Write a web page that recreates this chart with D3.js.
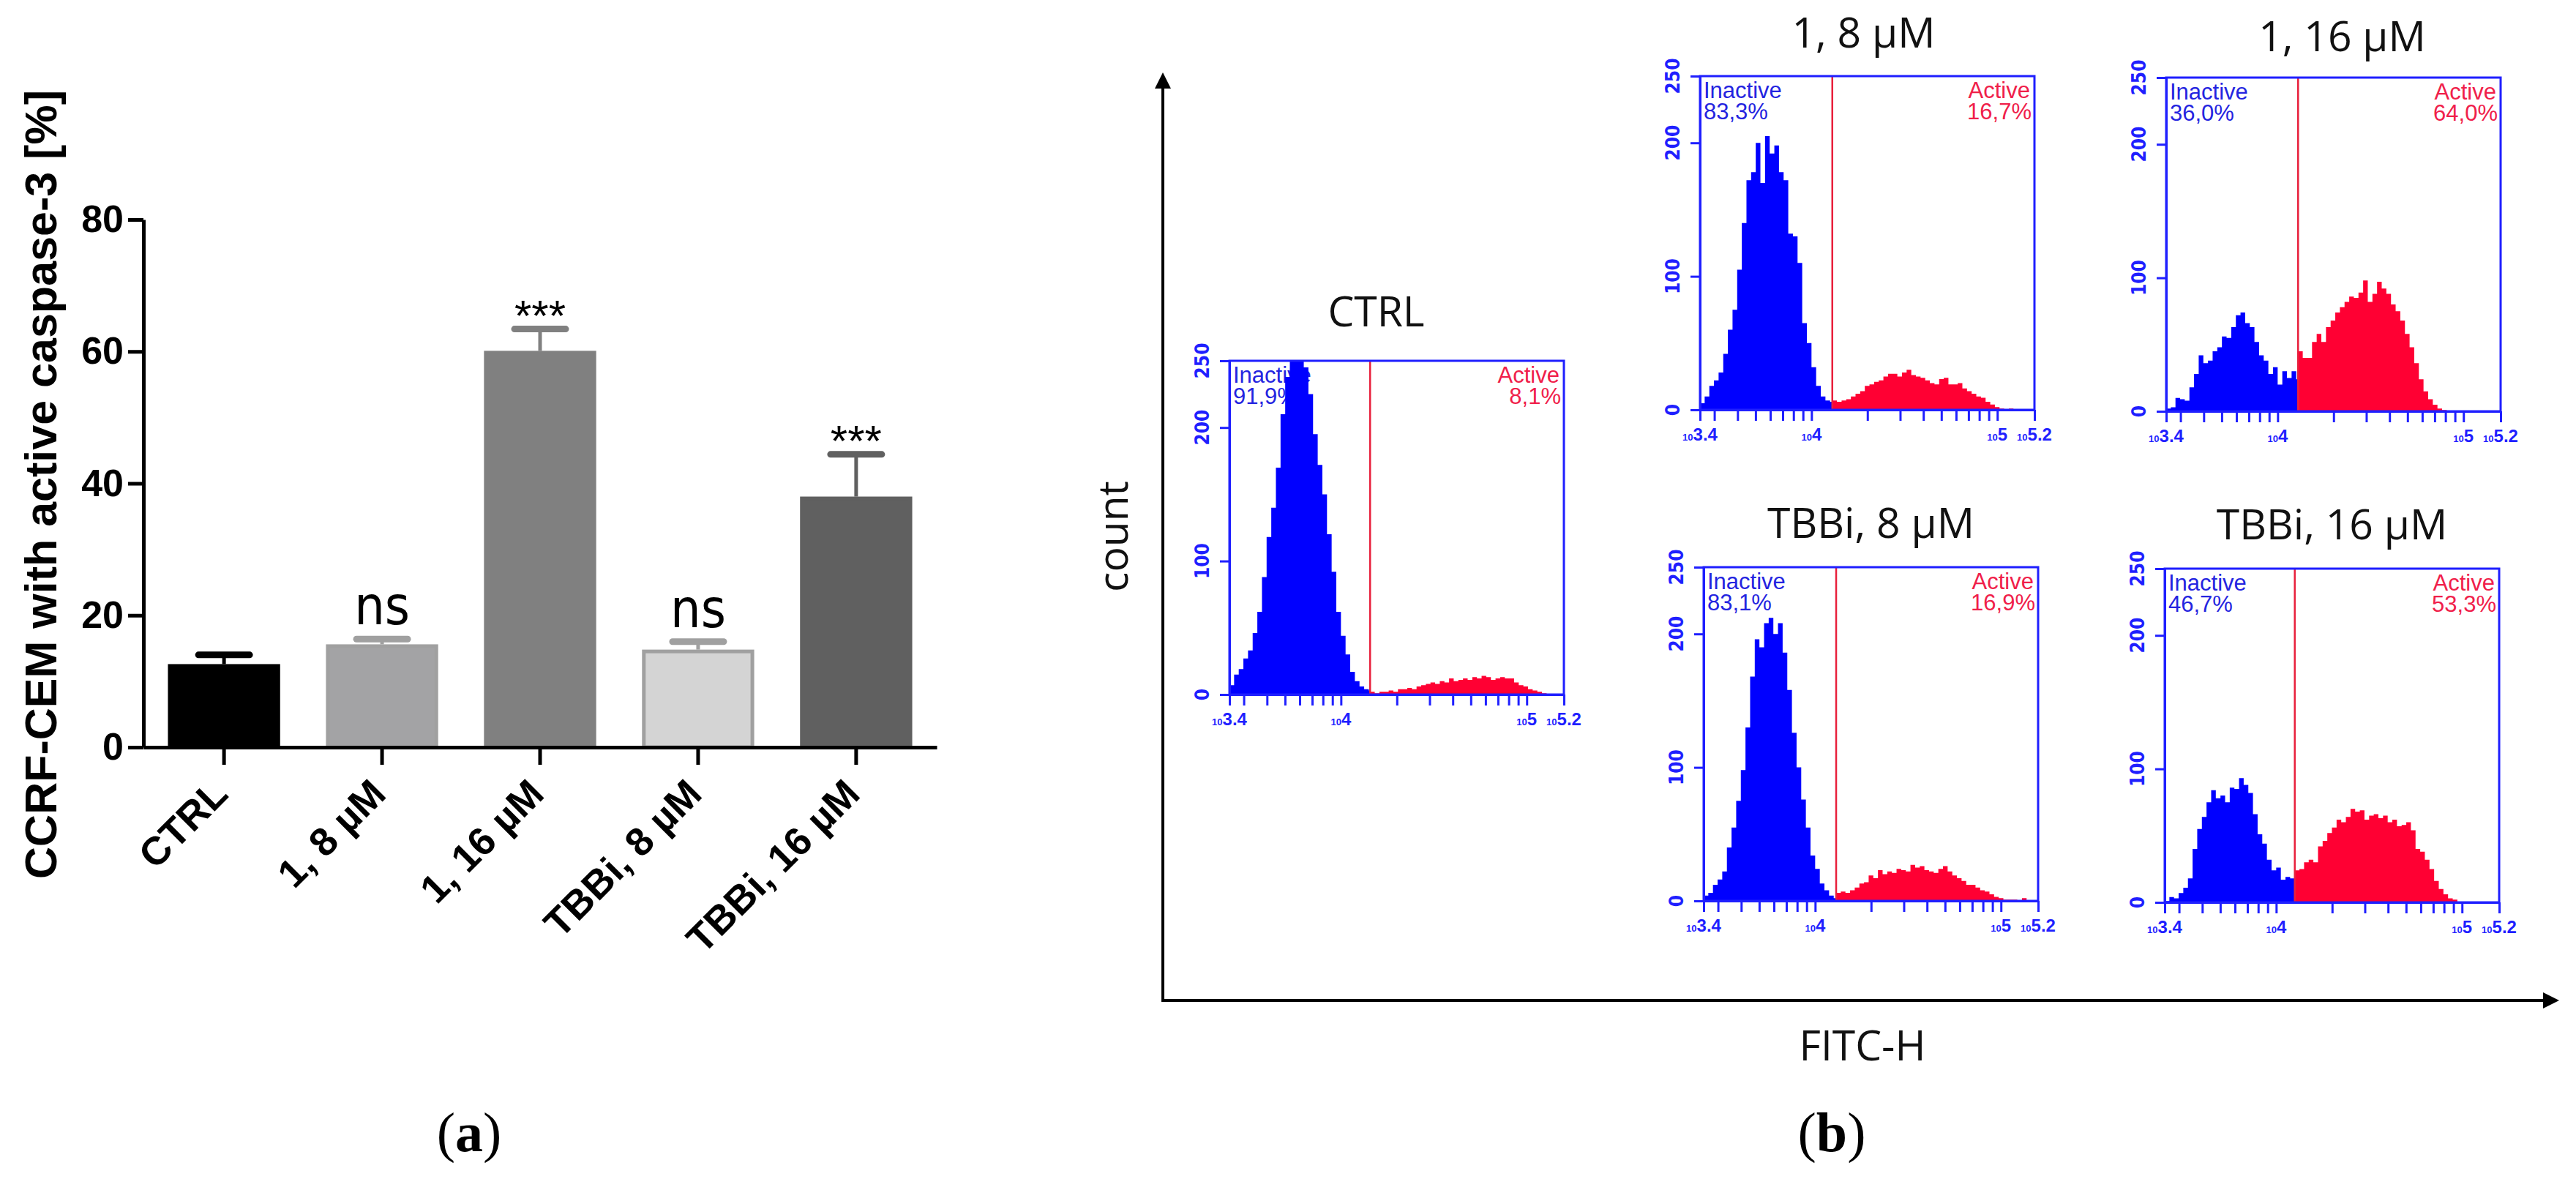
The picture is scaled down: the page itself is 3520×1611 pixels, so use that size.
<!DOCTYPE html>
<html>
<head>
<meta charset="utf-8">
<script src="https://cdn.jsdelivr.net/npm/d3@7"></script>
<style>
  body { margin: 0; background: #fff; }
  svg { display: block; }
</style>
</head>
<body>
<svg id="fig" width="3520" height="1611"></svg>
<script>
// ---------- panel (a): % cells with active caspase-3 ----------
const groups = ["CTRL", "1, 8 µM", "1, 16 µM", "TBBi, 8 µM", "TBBi, 16 µM"];
const meanActive = [12.6, 15.6, 60.1, 14.8, 38.0];
const semActive = [1.4, 0.8, 3.3, 1.2, 6.4];
const signif = ["", "ns", "***", "ns", "***"];
const pctTicks = [0, 20, 40, 60, 80];

// ---------- panel (b): FITC-H histograms ----------
const panelTitles = ["CTRL", "1, 8 µM", "1, 16 µM", "TBBi, 8 µM", "TBBi, 16 µM"];
const inactivePct = ["91,9%", "83,3%", "36,0%", "83,1%", "46,7%"];
const activePct = ["8,1%", "16,7%", "64,0%", "16,9%", "53,3%"];
const gateLog = [4.157, 4.112, 4.110, 4.113, 4.100];   // log10 of the gate
const binLog = 0.025;                                  // bin width in decades
const countTicks = [0, 100, 200, 250];
const fitcTicks = [10 ** 3.4, 3000, 4000, 5000, 6000, 7000, 8000, 9000, 10000,
  20000, 30000, 40000, 50000, 60000, 70000, 80000, 90000, 100000, 10 ** 5.2];
const fitcLabels = ["3.4", "4", "5", "5.2"];

// counts per bin, inactive bins start at 10^3.4, active bins start at the gate
const countsInactive = [
  [7, 15, 19, 27, 33, 46, 62, 88, 118, 140, 170, 210, 238, 250, 250, 250, 245, 225, 195, 172, 150, 120, 92, 62, 44, 30, 17, 10, 6, 4, 3],
  [5, 10, 18, 22, 28, 42, 60, 75, 105, 140, 172, 178, 200, 170, 205, 192, 198, 178, 172, 132, 130, 110, 65, 50, 32, 18, 10, 7, 6],
  [2, 3, 10, 9, 8, 18, 28, 42, 36, 38, 45, 48, 56, 55, 63, 72, 74, 66, 63, 52, 42, 38, 28, 33, 20, 30, 25, 30, 24],
  [4, 6, 12, 16, 22, 40, 55, 75, 98, 130, 168, 196, 190, 208, 212, 200, 208, 186, 158, 126, 100, 76, 55, 34, 24, 13, 8, 4, 2],
  [1, 4, 3, 7, 11, 18, 40, 55, 64, 75, 84, 78, 80, 75, 86, 85, 93, 88, 82, 66, 51, 44, 32, 24, 26, 17, 19, 18, 17]
];
const countsActive = [
  [2, 1, 2, 2, 3, 2, 4, 4, 5, 4, 6, 7, 8, 9, 8, 10, 9, 12, 10, 11, 12, 11, 13, 12, 14, 13, 11, 12, 13, 12, 12, 9, 7, 6, 4, 3, 2, 1, 0],
  [7, 6, 7, 8, 10, 12, 14, 18, 19, 21, 22, 25, 27, 27, 25, 28, 30, 26, 25, 24, 22, 20, 19, 23, 24, 19, 19, 20, 16, 14, 12, 10, 9, 6, 4, 2, 1, 0, 1],
  [45, 40, 40, 52, 58, 52, 63, 68, 74, 78, 82, 86, 85, 89, 98, 82, 88, 97, 92, 88, 80, 75, 68, 58, 48, 36, 24, 15, 9, 5, 2, 1],
  [6, 7, 6, 8, 10, 13, 14, 19, 17, 23, 20, 22, 21, 24, 23, 22, 27, 25, 26, 23, 22, 21, 24, 26, 22, 19, 17, 15, 12, 12, 10, 8, 7, 5, 3, 2, 1, 1, 1, 0, 2, 0],
  [24, 25, 30, 32, 30, 42, 46, 52, 56, 62, 60, 64, 70, 68, 69, 62, 65, 66, 63, 65, 60, 62, 57, 58, 60, 54, 40, 38, 32, 25, 16, 10, 6, 3, 2]
];

// layout
const panelPos = [[1680, 493], [2323, 104], [2960, 106], [2328, 775], [2958, 777]];
const titleShift = [[-28, -47], [-5, -39], [12, -36], [0, -40], [0, -40]];
const boxW = 457, boxH = 456;
const barFill = ["#000000", "#a3a3a5", "#808080", "#d4d4d4", "#606060"];
const barStroke = ["#000000", "#a0a0a0", "#808080", "#a0a0a0", "#606060"];

const svg = d3.select("#fig");
const SANS = "'Liberation Sans', Arial, sans-serif";
const NARROW = "'Liberation Sans Narrow', 'Arial Narrow', 'DejaVu Sans Condensed', sans-serif";
const CAL = "'Open Sans', Lato, sans-serif";
const SERIF = "'Liberation Serif', 'DejaVu Serif', serif";

// Bar chart with error bars
function drawBars() {
  const g = svg.append("g");
  const x = d3.scaleBand().domain(groups).range([196, 1280])
    .paddingInner(0.29).paddingOuter(0.155);
  const y = d3.scaleLinear().domain([0, 80]).range([1021, 300]);
  const cx = d => x(d) + x.bandwidth() / 2;

  g.selectAll("rect.bar").data(groups).join("rect")
    .attr("class", "bar")
    .attr("x", d => x(d) + 2.5)
    .attr("width", x.bandwidth() - 5)
    .attr("y", (d, i) => y(meanActive[i]) + 2.5)
    .attr("height", (d, i) => y(0) - y(meanActive[i]) - 2.5)
    .attr("fill", (d, i) => barFill[i])
    .attr("stroke", (d, i) => barStroke[i])
    .attr("stroke-width", 5);

  // upper error bars
  g.selectAll("line.err").data(groups).join("line")
    .attr("class", "err")
    .attr("x1", cx).attr("x2", cx)
    .attr("y1", (d, i) => y(meanActive[i]))
    .attr("y2", (d, i) => y(meanActive[i] + semActive[i]))
    .attr("stroke", (d, i) => barStroke[i])
    .attr("stroke-width", 5);
  g.selectAll("line.cap").data(groups).join("line")
    .attr("class", "cap")
    .attr("x1", d => cx(d) - 35).attr("x2", d => cx(d) + 35)
    .attr("y1", (d, i) => y(meanActive[i] + semActive[i]))
    .attr("y2", (d, i) => y(meanActive[i] + semActive[i]))
    .attr("stroke", (d, i) => barStroke[i])
    .attr("stroke-width", 9)
    .attr("stroke-linecap", "round");

  // significance marks
  g.selectAll("text.sig").data(groups).join("text")
    .attr("class", "sig")
    .attr("x", cx)
    .attr("y", (d, i) => y(meanActive[i] + semActive[i]) + (signif[i] === "ns" ? -20 : 2))
    .attr("text-anchor", "middle")
    .attr("font-family", (d, i) => signif[i] === "ns" ? NARROW : SANS)
    .attr("font-size", (d, i) => signif[i] === "ns" ? 73 : 60)
    .text((d, i) => signif[i]);

  // axes
  const ay = g.append("g").attr("transform", "translate(196,0)")
    .call(d3.axisLeft(y).tickValues(pctTicks).tickSize(21).tickSizeOuter(0).tickPadding(6));
  ay.select(".domain").attr("stroke-width", 5);
  ay.selectAll(".tick line").attr("stroke-width", 5);
  ay.selectAll("text").attr("font-family", SANS).attr("font-weight", "bold")
    .attr("font-size", 52).attr("fill", "#000");

  const ax = g.append("g").attr("transform", "translate(0,1021)")
    .call(d3.axisBottom(x).tickSize(24).tickSizeOuter(0));
  ax.select(".domain").attr("stroke-width", 5);
  ax.selectAll(".tick line").attr("stroke-width", 5);
  ax.selectAll("text")
    .attr("font-family", SANS).attr("font-weight", "bold").attr("font-size", 54)
    .attr("fill", "#000")
    .attr("text-anchor", "end")
    .attr("x", 0).attr("y", 0).attr("dy", 0)
    .attr("transform", "translate(8,67) rotate(-45)");

  g.append("text")
    .attr("transform", "translate(77,662) rotate(-90)")
    .attr("text-anchor", "middle")
    .attr("font-family", SANS).attr("font-weight", "bold").attr("font-size", 61)
    .text("CCRF-CEM with active caspase-3 [%]");

  svg.append("text").attr("x", 641).attr("y", 1573).attr("text-anchor", "middle")
    .attr("font-family", SERIF).attr("font-size", 76)
    .html('(<tspan font-weight="bold">a</tspan>)');
}

// One flow-cytometry histogram panel
function drawPanel(i) {
  const [bx, by] = panelPos[i];
  const g = svg.append("g").attr("transform", `translate(${bx},${by})`);
  const x = d3.scaleLog().domain([10 ** 3.4, 10 ** 5.2]).range([0, boxW]);
  const y = d3.scaleLinear().domain([0, 250]).range([boxH, 0]);
  const gx = x(10 ** gateLog[i]);
  const blue = "#0000ff", red = "#ff0033";

  g.append("text")
    .attr("x", boxW / 2 + titleShift[i][0]).attr("y", titleShift[i][1])
    .attr("text-anchor", "middle")
    .attr("font-family", CAL).attr("font-size", 57).attr("fill", "#111")
    .text(panelTitles[i]);

  // gate labels (drawn under the histogram, like the original)
  const lab = g.append("g").attr("font-family", SANS).attr("font-size", 31);
  lab.append("text").attr("x", 5).attr("y", 30).attr("fill", "#2424e0").text("Inactive");
  lab.append("text").attr("x", 5).attr("y", 59).attr("fill", "#2424e0").text(inactivePct[i]);
  lab.append("text").attr("x", boxW - 6).attr("y", 30).attr("text-anchor", "end")
    .attr("fill", "#f0204a").text("Active");
  lab.append("text").attr("x", boxW - 4).attr("y", 59).attr("text-anchor", "end")
    .attr("fill", "#f0204a").text(activePct[i]);

  const area = d3.area().curve(d3.curveStepAfter)
    .x(d => x(10 ** d.e)).y0(y(0)).y1(d => y(Math.min(d.c, 250)));

  function hist(counts, start, color, x0, x1) {
    const pts = counts.map((c, k) => ({ e: start + k * binLog, c }));
    pts.push({ e: start + counts.length * binLog, c: counts[counts.length - 1] });
    const id = `clip${i}_${color.slice(1)}`;
    g.append("clipPath").attr("id", id).append("rect")
      .attr("x", x0).attr("y", 0).attr("width", x1 - x0).attr("height", boxH);
    g.append("path").datum(pts).attr("d", area).attr("fill", color)
      .attr("clip-path", `url(#${id})`);
  }
  hist(countsInactive[i], 3.4, blue, 0, gx);
  hist(countsActive[i], gateLog[i], red, gx, boxW);

  g.append("line").attr("x1", gx).attr("x2", gx).attr("y1", 0).attr("y2", boxH)
    .attr("stroke", "#e8203c").attr("stroke-width", 2.5);
  g.append("rect").attr("width", boxW).attr("height", boxH)
    .attr("fill", "none").attr("stroke", "#1f1fff").attr("stroke-width", 3);

  const ay = g.append("g").attr("color", "#1f1fff")
    .call(d3.axisLeft(y).tickValues(countTicks).tickSize(13).tickSizeOuter(0).tickFormat(""));
  ay.selectAll("line, path").attr("stroke-width", 3);
  g.selectAll("text.cnt").data(countTicks).join("text")
    .attr("class", "cnt")
    .attr("transform", d => `translate(-28,${y(d)}) rotate(-90)`)
    .attr("text-anchor", "middle")
    .attr("font-family", NARROW).attr("font-weight", "bold").attr("font-size", 26)
    .attr("fill", "#1f1fff")
    .text(d => d);

  const ax = g.append("g").attr("color", "#1f1fff").attr("transform", `translate(0,${boxH})`)
    .call(d3.axisBottom(x).tickValues(fitcTicks).tickSize(15).tickSizeOuter(0).tickFormat(""));
  ax.selectAll("line, path").attr("stroke-width", 3);
  const xl = g.selectAll("text.fitc").data(fitcLabels).join("text")
    .attr("class", "fitc")
    .attr("x", d => x(10 ** +d))
    .attr("y", boxH + 42)
    .attr("text-anchor", "middle")
    .attr("font-family", SANS).attr("font-weight", "bold")
    .attr("fill", "#1f1fff");
  xl.append("tspan").attr("font-size", 13).text("10");
  xl.append("tspan").attr("font-size", 24).text(d => d);
}

// Shared count / FITC-H axes with arrows
function drawFrame() {
  const g = svg.append("g");
  g.append("line").attr("x1", 1589).attr("x2", 1589).attr("y1", 1369).attr("y2", 118)
    .attr("stroke", "#000").attr("stroke-width", 4);
  g.append("line").attr("x1", 1587).attr("x2", 3478).attr("y1", 1367).attr("y2", 1367)
    .attr("stroke", "#000").attr("stroke-width", 4);
  g.append("path").attr("d", "M1589,99 L1578,121 L1600,121 Z").attr("fill", "#000");
  g.append("path").attr("d", "M3497,1367 L3475,1356 L3475,1378 Z").attr("fill", "#000");

  g.append("text").attr("transform", "translate(1541,733) rotate(-90)")
    .attr("text-anchor", "middle").attr("font-family", CAL).attr("font-size", 57)
    .attr("fill", "#111").text("count");
  g.append("text").attr("x", 2545).attr("y", 1449).attr("text-anchor", "middle")
    .attr("font-family", CAL).attr("font-size", 57).attr("fill", "#111").text("FITC-H");

  g.append("text").attr("x", 2503).attr("y", 1573).attr("text-anchor", "middle")
    .attr("font-family", SERIF).attr("font-size", 76)
    .html('(<tspan font-weight="bold">b</tspan>)');
}

drawBars();
drawFrame();
panelTitles.forEach((t, i) => drawPanel(i));
</script>
</body>
</html>
